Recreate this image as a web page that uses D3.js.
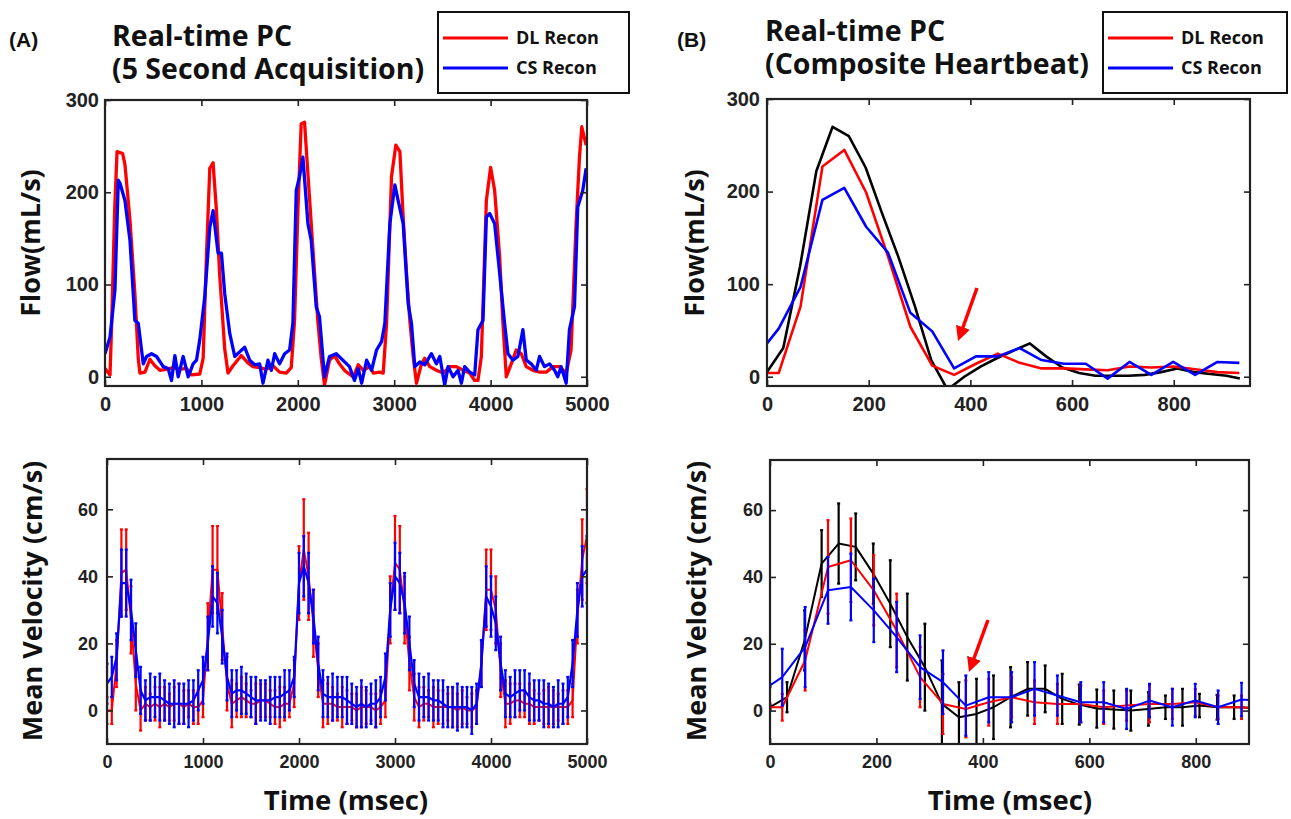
<!DOCTYPE html>
<html><head><meta charset="utf-8">
<script src="https://cdn.jsdelivr.net/npm/d3@7"></script>
<style>body{margin:0;background:#fff}svg{display:block}</style>
</head><body>
<svg id="c" width="1291" height="819"></svg>
<script>
// ---------- DATA ----------
const seriesNames = ["DL Recon", "CS Recon"];
const flowTicksA = [0, 1000, 2000, 3000, 4000, 5000];
const flowTicksB = [0, 200, 400, 600, 800];
const flowYTicks = [0, 100, 200, 300];
const velYTicks = [0, 20, 40, 60];

// (A) flow, 5 s acquisition: [time ms, flow mL/s]
const flowA_DL = [[0,9],[52,2],[70,60],[100,180],[125,244],[183,242],[207,230],[259,170],[310,90],[345,20],[362,4],[414,5],[466,19],[517,12],[570,7],[638,8],[707,10],[776,8],[845,9],[897,2],[983,3],[1018,20],[1052,130],[1087,226],[1121,232],[1156,180],[1190,110],[1242,30],[1276,4],[1328,12],[1414,23],[1483,15],[1535,11],[1604,10],[1673,8],[1742,12],[1811,5],[1880,4],[1932,10],[1966,60],[2001,180],[2035,274],[2070,276],[2105,220],[2156,140],[2208,60],[2243,20],[2277,-9],[2329,18],[2381,23],[2432,14],[2484,7],[2507,5],[2576,0],[2627,13],[2679,7],[2748,11],[2783,4],[2852,5],[2886,4],[2921,58],[2972,217],[3017,251],[3059,244],[3093,173],[3128,112],[3162,61],[3197,22],[3231,-7],[3283,14],[3317,20],[3369,11],[3438,7],[3507,4],[3576,11],[3645,11],[3714,7],[3783,4],[3835,-4],[3869,-4],[3904,22],[3956,191],[4000,227],[4042,202],[4094,130],[4128,58],[4163,0],[4214,14],[4266,29],[4318,25],[4370,11],[4439,7],[4508,5],[4577,5],[4646,11],[4715,11],[4784,4],[4835,29],[4887,166],[4922,238],[4946,271],[4991,251]];
const flowA_CS = [[0,25],[52,43],[103,94],[138,213],[155,210],[207,191],[259,148],[310,61],[345,58],[397,14],[431,22],[483,25],[535,22],[604,11],[655,9],[690,-4],[725,23],[759,0],[811,22],[863,0],[914,14],[949,18],[983,40],[1035,87],[1087,162],[1121,180],[1173,134],[1208,134],[1242,90],[1294,47],[1346,22],[1397,27],[1449,32],[1501,18],[1553,13],[1604,14],[1639,-7],[1691,18],[1725,7],[1760,25],[1811,14],[1863,25],[1915,29],[1949,58],[1984,202],[2018,217],[2053,238],[2105,166],[2139,148],[2191,76],[2225,65],[2277,0],[2329,22],[2398,25],[2467,18],[2536,11],[2588,-4],[2627,9],[2662,-7],[2714,18],[2765,7],[2817,29],[2869,38],[2903,58],[2955,166],[3007,208],[3041,191],[3093,166],[3145,79],[3179,58],[3214,11],[3266,16],[3317,13],[3386,25],[3438,14],[3473,22],[3524,-9],[3559,11],[3611,0],[3662,7],[3697,-7],[3731,11],[3783,5],[3835,2],[3869,51],[3921,61],[3956,173],[3990,177],[4042,166],[4094,112],[4145,58],[4180,25],[4232,18],[4283,22],[4335,51],[4370,18],[4421,14],[4473,7],[4508,22],[4559,11],[4611,14],[4663,7],[4697,0],[4732,11],[4784,-7],[4818,51],[4870,76],[4904,184],[4956,202],[4991,226]];

// (A) mean velocity with error bars
const velA_t = [0,50,100,150,200,250,300,350,400,450,500,550,600,650,700,750,800,850,900,950,1000,1050,1100,1150,1200,1250,1300,1350,1400,1450,1500,1550,1600,1650,1700,1750,1800,1850,1900,1950,2000,2050,2100,2150,2200,2250,2300,2350,2400,2450,2500,2550,2600,2650,2700,2750,2800,2850,2900,2950,3000,3050,3100,3150,3200,3250,3300,3350,3400,3450,3500,3550,3600,3650,3700,3750,3800,3850,3900,3950,4000,4050,4100,4150,4200,4250,4300,4350,4400,4450,4500,4550,4600,4650,4700,4750,4800,4850,4900,4950,5000];
const velA_DL = [0,0,14,41,42,27,8,0,2,1,2,1,2,1,2,2,1,2,1,1,3,22,42,42,25,8,2,3,4,3,2,2,3,3,2,1,1,2,2,8,38,48,40,26,12,2,2,2,1,1,1,1,0,1,1,1,0,1,3,30,44,42,30,14,4,1,2,2,1,1,1,1,1,0,1,0,0,1,14,36,36,30,12,2,2,3,3,2,2,1,1,1,1,1,1,1,1,3,28,45,52];
const velA_DL_err = [4,4,7,13,12,10,8,6,5,4,5,6,5,4,5,6,5,4,5,5,5,10,13,13,10,8,7,5,6,5,4,6,5,5,4,5,6,5,4,7,11,15,13,10,8,7,6,5,4,6,5,4,5,6,5,4,5,5,5,10,14,13,10,8,7,6,5,4,6,5,5,4,6,5,5,4,5,5,7,12,12,10,8,7,6,5,5,4,6,5,4,5,6,5,4,5,5,5,8,12,14];
const velA_CS = [8,10,16,38,38,30,18,6,3,4,4,4,3,2,2,2,2,2,3,6,9,20,34,32,22,10,5,6,6,5,4,3,3,3,3,4,4,5,6,10,38,43,38,28,14,5,4,4,4,4,3,2,1,2,1,2,2,4,10,30,40,38,32,20,8,4,4,4,3,3,2,1,1,1,1,1,0,2,14,34,31,26,14,5,4,5,6,6,4,3,3,2,2,1,2,2,4,14,30,40,42];
const velA_CS_err = [6,6,7,10,10,9,8,7,6,7,6,7,6,6,7,6,6,7,6,6,7,8,9,9,8,7,7,6,7,6,6,7,6,6,7,6,6,7,6,6,9,9,9,8,8,7,6,7,6,6,7,6,6,7,6,6,7,6,7,8,10,9,9,8,7,7,6,7,6,6,7,6,6,7,6,6,7,6,7,9,9,8,8,7,6,7,6,6,7,6,6,7,6,6,7,6,6,7,8,9,10];

// (B) composite heartbeat
const tB = [0,23,66,109,152,195,238,282,325,368,411,454,497,540,584,627,670,713,756,799,842,886,929];
const tRef = [0,32,65,97,129,161,194,226,258,291,323,355,388,420,452,484,517,549,581,614,646,678,711,743,775,807,840,872,904,930];
const flowB_DL = [4,4,76,227,245,199,130,54,12,2,14,25,15,9,9,8,7,11,10,11,8,5,4];
const flowB_CS = [36,52,97,191,204,162,134,69,49,9,22,22,31,18,14,14,-2,16,2,16,2,16,15];
const flowB_Ref = [5,31,119,222,270,260,226,177,130,76,18,-14,0,11,20,28,36,22,10,4,1,1,1,2,5,9,5,3,1,-2];

const velB_DL = [1,1,15,43,45,36,24,10,2,0.5,2.5,4,2.5,2,2,1,1.5,2,2,2.5,1,1,0.5];
const velB_DL_err = [1,4,9,14,12.5,10.5,11,9,9,8.5,7,6,6.5,6,5.5,5,4.5,5.5,4.5,4,3.5,3.5,3];
const velB_CS = [7.5,10,19,36,37,30,22,13,8.5,1.5,4,4,6.5,4.5,2.5,2.5,0.5,3,1,3,1,3.3,3];
const velB_CS_err = [0.5,8.5,12,10,10,9.5,10.5,9.5,9.5,9,7.5,7.5,8,6,6,6,6,5,5.5,5,5,5,5];
const velB_Ref_t = [0,32,65,97,129,161,194,226,258,291,323,355,388,420,452,484,517,549,581,614,646,678,711,743,775,807,840,872,904];
const velB_Ref = [1,4,21,44,50,49,41,32,22,13,2,-2,-1,1,4,6.5,6.5,3.5,1.8,0.6,0.3,0,0.5,1,1,1.5,1,1,0.8];
const velB_Ref_err = [0.5,4.5,9,10,12,10,9,13,13,13,13,10.5,10.5,9.5,9,8,7,7.5,6,5.7,5.7,6,5,3.5,5.5,3.5,3.7,3.5,3.5];

// ---------- DRAW ----------
const RED = "#ff0000", BLUE = "#0000ff", BLACK = "#000000";
const TICKFONT = "'Liberation Sans', Arial, sans-serif";
const TITLEFONT = "'Open Sans', 'DejaVu Sans', sans-serif";
const svg = d3.select("#c");
let clipN = 0;

function panel(p) {
  const x = d3.scaleLinear().domain(p.xd).range([p.x0, p.x1]);
  const y = d3.scaleLinear().domain(p.yd).range([p.y1, p.y0]);
  const id = "clip" + (clipN++);
  svg.append("clipPath").attr("id", id).append("rect")
    .attr("x", p.x0).attr("y", p.y0).attr("width", p.x1 - p.x0).attr("height", p.y1 - p.y0);
  const plot = svg.append("g").attr("clip-path", `url(#${id})`);

  const styleAxis = (g, labels) => {
    g.select(".domain").remove();
    g.selectAll(".tick line").attr("stroke", "#222").attr("stroke-width", 1.6);
    if (!labels) g.selectAll(".tick text").remove();
    else g.selectAll(".tick text").attr("font-family", TICKFONT).attr("font-weight", "bold")
        .attr("font-size", p.fs).attr("fill", "#222");
  };
  const fmt = d3.format("d");
  svg.append("g").attr("transform", `translate(0,${p.y1})`)
    .call(d3.axisBottom(x).tickValues(p.xt).tickSize(-6).tickPadding(11).tickFormat(fmt))
    .call(g => styleAxis(g, true));
  svg.append("g").attr("transform", `translate(0,${p.y0})`)
    .call(d3.axisTop(x).tickValues(p.xt).tickSize(-6))
    .call(g => styleAxis(g, false));
  svg.append("g").attr("transform", `translate(${p.x0},0)`)
    .call(d3.axisLeft(y).tickValues(p.yt).tickSize(-6).tickPadding(p.ypad).tickFormat(fmt))
    .call(g => styleAxis(g, true));
  svg.append("g").attr("transform", `translate(${p.x1},0)`)
    .call(d3.axisRight(y).tickValues(p.yt).tickSize(-6))
    .call(g => styleAxis(g, false));
  return { x, y, plot, p };
}

function frame(P) {
  const p = P.p;
  svg.append("rect").attr("x", p.x0).attr("y", p.y0).attr("width", p.x1 - p.x0).attr("height", p.y1 - p.y0)
    .attr("fill", "none").attr("stroke", "#222").attr("stroke-width", 2.2);
}

function linePairs(P, data, color, w) {
  P.plot.append("path").datum(data)
    .attr("d", d3.line().x(d => P.x(d[0])).y(d => P.y(d[1])))
    .attr("fill", "none").attr("stroke", color).attr("stroke-width", w).attr("stroke-linejoin", "round");
}
function lineTV(P, t, v, color, w) {
  linePairs(P, t.map((d, i) => [d, v[i]]), color, w);
}
function errbars(P, t, v, e, color, w, cap) {
  const g = P.plot.append("g").attr("stroke", color).attr("stroke-width", w);
  t.forEach((d, i) => {
    const xx = P.x(d), lo = P.y(v[i] - e[i]), hi = P.y(v[i] + e[i]);
    g.append("line").attr("x1", xx).attr("x2", xx).attr("y1", lo).attr("y2", hi);
    g.append("line").attr("x1", xx - cap).attr("x2", xx + cap).attr("y1", lo).attr("y2", lo);
    g.append("line").attr("x1", xx - cap).attr("x2", xx + cap).attr("y1", hi).attr("y2", hi);
  });
}

// Panel A top: flow
const A1 = panel({ x0: 105, x1: 587, y0: 100, y1: 386, xd: [0, 5000], yd: [-10, 300], xt: flowTicksA, yt: flowYTicks, fs: 20, ypad: 6 });
linePairs(A1, flowA_DL, RED, 3.3);
linePairs(A1, flowA_CS, BLUE, 3.3);
frame(A1);

// Panel A bottom: velocity
const A2 = panel({ x0: 107, x1: 587, y0: 459, y1: 744, xd: [0, 5000], yd: [-10, 75], xt: flowTicksA, yt: velYTicks, fs: 18, ypad: 9 });
errbars(A2, velA_t, velA_DL, velA_DL_err, RED, 2.2, 1.5);
lineTV(A2, velA_t, velA_DL, RED, 2);
errbars(A2, velA_t, velA_CS, velA_CS_err, BLUE, 2.2, 1.5);
lineTV(A2, velA_t, velA_CS, BLUE, 2.2);
frame(A2);

// Panel B top: composite flow
const B1 = panel({ x0: 767, x1: 1250, y0: 99, y1: 386, xd: [0, 950], yd: [-10, 300], xt: flowTicksB, yt: flowYTicks, fs: 20, ypad: 7 });
lineTV(B1, tRef, flowB_Ref, BLACK, 2.6);
lineTV(B1, tB, flowB_DL, RED, 2.6);
lineTV(B1, tB, flowB_CS, BLUE, 2.6);
frame(B1);

// Panel B bottom: composite velocity
const B2 = panel({ x0: 770, x1: 1249, y0: 460, y1: 744, xd: [0, 900], yd: [-10, 75], xt: flowTicksB, yt: velYTicks, fs: 18, ypad: 7 });
errbars(B2, velB_Ref_t, velB_Ref, velB_Ref_err, BLACK, 2.2, 1.5);
lineTV(B2, velB_Ref_t, velB_Ref, BLACK, 2);
errbars(B2, tB, velB_DL, velB_DL_err, RED, 2.2, 1.5);
lineTV(B2, tB, velB_DL, RED, 2);
errbars(B2, tB, velB_CS, velB_CS_err, BLUE, 2.2, 1.5);
lineTV(B2, tB, velB_CS, BLUE, 2);
frame(B2);

// Arrows (annotation)
const defs = svg.append("defs");
defs.append("marker").attr("id", "ah").attr("viewBox", "0 0 10 10").attr("refX", 2).attr("refY", 5)
  .attr("markerWidth", 4.2).attr("markerHeight", 4.2).attr("orient", "auto")
  .append("path").attr("d", "M0,0 L10,5 L0,10 z").attr("fill", RED);
function arrow(x1, y1, x2, y2) {
  svg.append("line").attr("x1", x1).attr("y1", y1).attr("x2", x2).attr("y2", y2)
    .attr("stroke", RED).attr("stroke-width", 3.5).attr("marker-end", "url(#ah)");
}
arrow(977, 288, 962, 330);
arrow(988, 620, 973, 661);

// Text
function txt(x, y, s, size, opts = {}) {
  const t = svg.append("text").attr("x", x).attr("y", y).text(s)
    .attr("font-family", opts.font || TITLEFONT).attr("font-weight", "bold")
    .attr("font-size", size).attr("fill", opts.fill || "#111");
  if (opts.anchor) t.attr("text-anchor", opts.anchor);
  if (opts.rot) t.attr("transform", `rotate(-90,${x},${y})`);
  return t;
}
function title2(x, y, lines, size, gap) {
  const t = svg.append("text").attr("font-family", TITLEFONT).attr("font-weight", "bold")
    .attr("font-size", size).attr("fill", "#111");
  lines.forEach((s, i) => t.append("tspan").attr("x", x).attr("y", y + i * gap).text(s));
}
txt(9, 47, "(A)", 21, { font: TICKFONT });
title2(112, 46, ["Real-time PC", "(5 Second Acquisition)"], 28.5, 33);
txt(677, 47, "(B)", 21, { font: TICKFONT });
title2(765, 41, ["Real-time PC", "(Composite Heartbeat)"], 28.5, 33);

txt(40, 243, "Flow(mL/s)", 27, { anchor: "middle", rot: true });
txt(42, 601, "Mean Velocity (cm/s)", 27, { anchor: "middle", rot: true });
txt(704, 243, "Flow(mL/s)", 27, { anchor: "middle", rot: true });
txt(706, 601, "Mean Velocity (cm/s)", 27, { anchor: "middle", rot: true });
txt(346, 810, "Time (msec)", 27.5, { anchor: "middle" });
txt(1010, 810, "Time (msec)", 27.5, { anchor: "middle" });

// Legends
function legend(x0, y0, w, h) {
  svg.append("rect").attr("x", x0).attr("y", y0).attr("width", w).attr("height", h)
    .attr("fill", "#fff").attr("stroke", "#111").attr("stroke-width", 2);
  [RED, BLUE].forEach((c, i) => {
    const yy = y0 + 26 + i * 30;
    svg.append("line").attr("x1", x0 + 5).attr("x2", x0 + 70).attr("y1", yy).attr("y2", yy)
      .attr("stroke", c).attr("stroke-width", 3);
    txt(x0 + 78, yy + 6, seriesNames[i], 18);
  });
}
legend(438, 12, 191, 81);
legend(1103, 12, 184, 81);
</script>
</body></html>
